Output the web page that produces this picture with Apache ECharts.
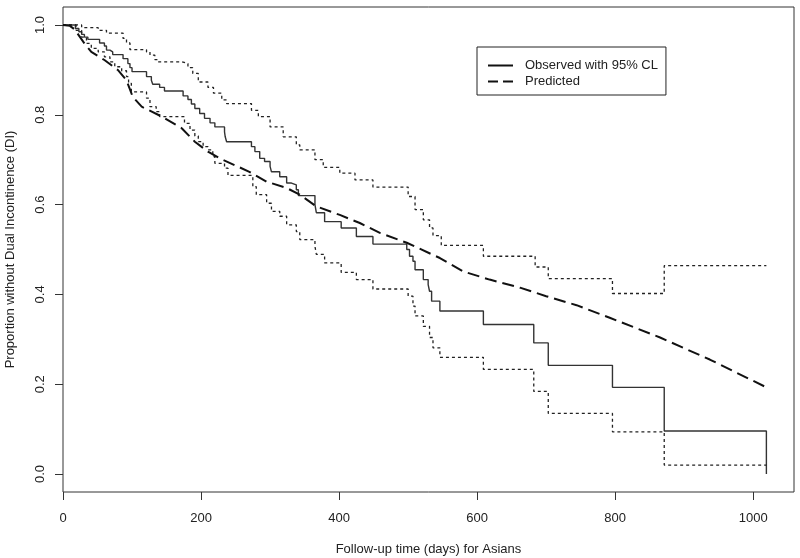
<!DOCTYPE html>
<html><head><meta charset="utf-8">
<script src="https://cdn.jsdelivr.net/npm/echarts@6/dist/echarts.min.js"></script>
<style>html,body{margin:0;padding:0;background:#fff}#c{width:800px;height:558px}</style>
</head><body><div id="c"></div>
<script>
// Observed Kaplan-Meier estimate
const obsDays = [0,18,23,27,31,36,53,60,63,68,72,87,94,97,100,121,128,130,140,147,174,181,186,191,198,205,213,220,234,235,237,273,278,285,292,300,302,314,324,331,338,341,365,367,379,403,425,449,498,502,507,510,522,529,531,534,546,609,682,703,796,871,1019];
const obsSurv = [1.0,0.992,0.985,0.979,0.973,0.968,0.960,0.953,0.944,0.940,0.934,0.925,0.914,0.905,0.896,0.885,0.877,0.868,0.861,0.853,0.842,0.834,0.824,0.814,0.803,0.792,0.782,0.773,0.762,0.751,0.740,0.729,0.718,0.703,0.696,0.685,0.673,0.662,0.648,0.644,0.633,0.620,0.600,0.582,0.562,0.548,0.529,0.512,0.500,0.485,0.474,0.455,0.433,0.422,0.407,0.385,0.363,0.333,0.292,0.242,0.193,0.096,0.0];
// Upper 95% confidence limit
const upDays = [0,27,51,63,87,92,97,121,126,133,137,172,181,188,196,210,218,230,237,273,283,300,319,338,343,365,377,401,423,449,500,510,522,531,536,548,609,684,703,796,871,1019];
const upVals = [1.0,0.994,0.988,0.982,0.970,0.960,0.945,0.940,0.933,0.923,0.918,0.914,0.905,0.892,0.873,0.861,0.848,0.833,0.825,0.810,0.796,0.773,0.751,0.733,0.722,0.700,0.683,0.670,0.655,0.639,0.618,0.589,0.566,0.548,0.531,0.509,0.485,0.461,0.435,0.402,0.464,0.464];
// Lower 95% confidence limit
const loDays = [0,19,27,34,41,51,60,68,75,85,92,95,99,121,126,135,140,176,184,191,196,203,210,217,220,234,239,275,280,295,302,314,324,338,343,365,367,379,403,425,449,500,507,510,522,531,536,546,609,682,703,796,871,1019];
const loVals = [1.0,0.988,0.973,0.959,0.948,0.940,0.929,0.918,0.907,0.898,0.885,0.870,0.851,0.837,0.818,0.807,0.796,0.781,0.766,0.753,0.740,0.729,0.722,0.707,0.692,0.681,0.665,0.640,0.622,0.603,0.585,0.574,0.555,0.540,0.522,0.507,0.489,0.470,0.449,0.433,0.412,0.396,0.374,0.352,0.329,0.304,0.281,0.260,0.233,0.184,0.135,0.094,0.020,0.020];
// Predicted curve
const predDays = [0,10,17,31,41,60,80,92,101,114,143,172,191,210,227,270,295,324,343,367,401,430,459,498,546,580,618,662,700,744,792,865,937,1019];
const predVals = [1.0,0.998,0.99,0.959,0.940,0.922,0.899,0.877,0.840,0.818,0.796,0.770,0.740,0.718,0.703,0.673,0.651,0.637,0.622,0.596,0.577,0.559,0.537,0.515,0.481,0.451,0.433,0.415,0.396,0.376,0.348,0.304,0.255,0.193];

const xTicks = [0,200,400,600,800,1000];
const yTicks = [0,0.2,0.4,0.6,0.8,1.0];
const xTitle = 'Follow-up time (days) for Asians';
const yTitle = 'Proportion without Dual Incontinence (DI)';
const legendNames = ['Observed with 95% CL','Predicted'];

const zip = (a,b) => a.map((v,i) => [v, b[i]]);
const FONT = '"Liberation Sans", Arial, sans-serif';
const TXT = '#222';

const chart = echarts.init(document.getElementById('c'), null, {renderer:'canvas'});
chart.setOption({
  animation:false,
  backgroundColor:'#fff',
  textStyle:{fontFamily:FONT},
  grid:{left:63, right:6, top:7, bottom:66, show:true, borderColor:'#333', borderWidth:1,
        backgroundColor:'transparent', containLabel:false, outerBoundsMode:'none'},
  legend:{
    show:true,
    data:[
      {name:legendNames[0], icon:'path://M0,0H25V2H0Z'},
      {name:legendNames[1], icon:'path://M0,0H10V2H0Z M15,0H25V2H15Z'}
    ],
    orient:'vertical', left:477, top:47,
    padding:[12,8,7,11], itemWidth:25, itemHeight:2, itemGap:3,
    borderColor:'#222', borderWidth:1, backgroundColor:'#fff',
    itemStyle:{color:'#111', borderWidth:0},
    textStyle:{fontSize:13, color:TXT, fontFamily:FONT, padding:[0,0,0,7]}
  },
  xAxis:{
    type:'value', min:0, max:1059,
    axisLine:{show:false, onZero:false},
    axisTick:{show:true, length:8, inside:false, lineStyle:{color:'#333'}, customValues:xTicks},
    axisLabel:{fontSize:13, color:TXT, margin:20, customValues:xTicks, formatter:v=>String(v)},
    splitLine:{show:false},
    name:xTitle, nameLocation:'middle', nameGap:51,
    nameTextStyle:{fontSize:13, color:TXT, fontFamily:FONT}
  },
  yAxis:{
    type:'value', min:-0.04, max:1.04,
    axisLine:{show:false, onZero:false},
    axisTick:{show:true, length:8, inside:false, lineStyle:{color:'#333'}, customValues:yTicks},
    axisLabel:{fontSize:13, color:TXT, margin:16, rotate:90, customValues:yTicks, formatter:v=>v.toFixed(1)},
    splitLine:{show:false},
    name:yTitle, nameLocation:'middle', nameGap:46,
    nameTextStyle:{fontSize:13, color:TXT, fontFamily:FONT}
  },
  series:[
    {name:'Observed with 95% CL', type:'line', step:'end', symbol:'none', data:zip(obsDays,obsSurv),
     lineStyle:{color:'#333', width:1.4, type:'solid'}, itemStyle:{color:'#333'}},
    {name:'upper', type:'line', step:'end', symbol:'none', data:zip(upDays,upVals),
     lineStyle:{color:'#222', width:1.3, type:[3,3]}, itemStyle:{color:'#222'}},
    {name:'lower', type:'line', step:'end', symbol:'none', data:zip(loDays,loVals),
     lineStyle:{color:'#222', width:1.3, type:[3,3]}, itemStyle:{color:'#222'}},
    {name:'Predicted', type:'line', symbol:'none', data:zip(predDays,predVals),
     lineStyle:{color:'#111', width:2, type:[12,6]}, itemStyle:{color:'#111'}}
  ]
});
</script>
</body></html>
